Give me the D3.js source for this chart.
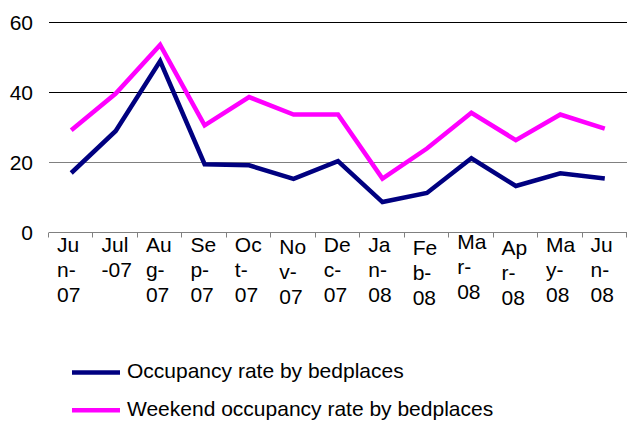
<!DOCTYPE html>
<html>
<head>
<meta charset="utf-8">
<script src="https://cdn.jsdelivr.net/npm/d3@7"></script>
<style>
  body { margin: 0; background: #fff; }
  text { font-family: "Liberation Sans", Arial, sans-serif; fill: #000; }
</style>
</head>
<body>
<svg id="chart"></svg>
<script>
var months = ["Jun-07","Jul-07","Aug-07","Sep-07","Oct-07","Nov-07","Dec-07",
              "Jan-08","Feb-08","Mar-08","Apr-08","May-08","Jun-08"];
var occupancy = [17, 29, 49, 19.5, 19.2, 15.3, 20.4, 8.7, 11.3, 21.2, 13.3, 16.9, 15.4];
var weekend = [29.2, 39.7, 53.6, 30.6, 38.7, 33.7, 33.7, 15.4, 24, 34.2, 26.4, 33.7, 29.7];
var yTicks = [0, 20, 40, 60];
var seriesNames = ["Occupancy rate by bedplaces", "Weekend occupancy rate by bedplaces"];
var seriesColors = ["#000080", "#ff00ff"];

var width = 627, height = 422;
var plotLeft = 49, plotRight = 627, plotTop = 22.5, plotBottom = 232.5;
var fontSize = 21;

var svg = d3.select("#chart")
  .attr("width", width)
  .attr("height", height);

var x = d3.scaleBand().domain(months).range([plotLeft, plotRight]);
var y = d3.scaleLinear().domain([0, 60]).range([plotBottom, plotTop]);

// gridlines
svg.selectAll(".grid")
  .data(yTicks.filter(function(d) { return d > 0; }))
  .enter().append("line")
    .attr("x1", plotLeft).attr("x2", plotRight)
    .attr("y1", function(d) { return y(d); })
    .attr("y2", function(d) { return y(d); })
    .attr("stroke", function(d) { return d == 20 ? "#808080" : "#000"; })
    .attr("stroke-width", 1);

// y labels
svg.selectAll(".ylab")
  .data(yTicks).enter().append("text")
    .attr("x", 33)
    .attr("y", function(d) { return y(d); })
    .attr("dy", "0.36em")
    .attr("text-anchor", "end")
    .style("font-size", fontSize + "px")
    .text(function(d) { return d; });

// x axis line + ticks
svg.append("line")
  .attr("x1", plotLeft).attr("x2", plotRight)
  .attr("y1", plotBottom).attr("y2", plotBottom)
  .attr("stroke", "#808080");
svg.selectAll(".xtick")
  .data(d3.range(months.length + 1)).enter().append("line")
    .attr("x1", function(i) { return Math.round(plotLeft + i * x.bandwidth()) - 0.5; })
    .attr("x2", function(i) { return Math.round(plotLeft + i * x.bandwidth()) - 0.5; })
    .attr("y1", plotBottom).attr("y2", plotBottom + 5)
    .attr("stroke", "#808080");

// x labels, wrapped at hyphens, then by character, like the original
var labelShift = [0, 0, 0, 0, 0, 2, 0, 0, 3, -3, 3, 0, 0];
var maxW = 1.5 * fontSize;
var measure = svg.append("text").style("font-size", fontSize + "px");
function textW(s) {
  measure.text(s);
  return measure.node().getComputedTextLength();
}
function wrap(s) {
  var words = s.split(/(?<=-)/), lines = [], cur = "";
  words.forEach(function(w) {
    if (textW(cur + w) <= maxW) { cur += w; return; }
    if (cur) { lines.push(cur); cur = ""; }
    if (textW(w) <= maxW) { cur = w; return; }
    for (var k = 0; k < w.length; k++) {
      if (cur && textW(cur + w[k]) > maxW) { lines.push(cur); cur = w[k]; }
      else cur += w[k];
    }
  });
  if (cur) lines.push(cur);
  return lines;
}
months.forEach(function(m, i) {
  var t = svg.append("text")
    .attr("x", x(m) + 8)
    .attr("y", 252 + labelShift[i])
    .style("font-size", fontSize + "px");
  wrap(m).forEach(function(line, j) {
    t.append("tspan").attr("x", x(m) + 8).attr("dy", j ? 25 : 0).text(line);
  });
});
measure.remove();

// lines
var line = d3.line()
  .x(function(d, i) { return x(months[i]) + x.bandwidth() / 2; })
  .y(function(d) { return y(d); });

[occupancy, weekend].forEach(function(s, k) {
  svg.append("path")
    .datum(s)
    .attr("d", line)
    .attr("fill", "none")
    .attr("stroke", seriesColors[k])
    .attr("stroke-width", 4.5)
    .attr("stroke-linejoin", "miter");
});

// legend
var legend = svg.selectAll(".legend")
  .data(seriesNames).enter().append("g")
    .attr("transform", function(d, i) { return "translate(0," + (372.5 + i * 37.7) + ")"; });
legend.append("line")
  .attr("x1", 72).attr("x2", 120)
  .attr("stroke", function(d, i) { return seriesColors[i]; })
  .attr("stroke-width", 4.5);
legend.append("text")
  .attr("x", 127)
  .attr("y", 5.5)
  .style("font-size", fontSize + "px")
  .text(function(d) { return d; });
</script>
</body>
</html>
